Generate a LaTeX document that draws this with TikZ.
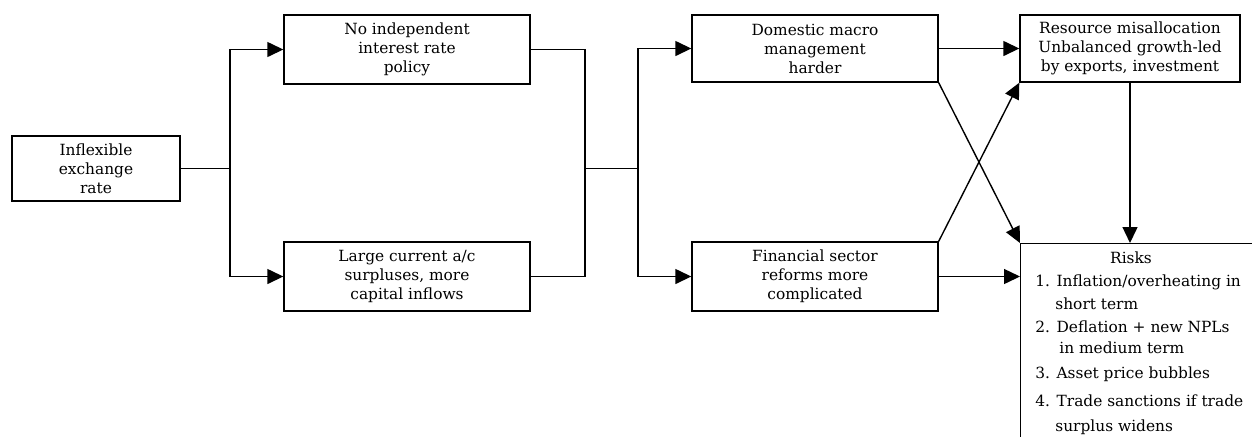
\documentclass[tikz,border=0pt]{standalone}
\usepackage{fontspec}
\setmainfont{DejaVu Serif}
\usetikzlibrary{arrows.meta}
\begin{document}
\begin{tikzpicture}[x=0.5pt,y=-0.5pt,
  box/.style={draw, line width=0.7pt, align=center, inner sep=0pt,
    font=\fontsize{7.7}{9.5}\selectfont},
  conn/.style={line width=0.7pt},
  arr/.style={conn, -{Triangle[length=8pt,width=7.5pt]}},
  risktext/.style={inner sep=0pt, font=\fontsize{7.7}{11.5}\selectfont}
]
\clip (0,0) rectangle (1252,436);
\fill[white] (0,0) rectangle (1252,436);
\node[box, minimum width=84pt, minimum height=32.5pt] (A) at (96,168.5) {Inflexible\\exchange\\rate};
\node[box, minimum width=123pt, minimum height=34.5pt] (B) at (407,49.5) {No independent\\interest rate\\policy};
\node[box, minimum width=123pt, minimum height=34.5pt] (C) at (407,276.5) {Large current a/c\\surpluses, more\\capital inflows};
\node[box, minimum width=123pt, minimum height=33.5pt] (D) at (815,48.5) {Domestic macro\\management\\harder};
\node[box, minimum width=123pt, minimum height=34.5pt] (E) at (815,276.5) {Financial sector\\reforms more\\complicated};
\node[box, minimum width=110pt, minimum height=33.5pt] (F) at (1130,48.5) {Resource misallocation\\Unbalanced growth-led\\by exports, investment};
\node[draw, line width=0.7pt, inner sep=0pt, minimum width=130pt, minimum height=110pt, anchor=north west] (risks) at (1020,243) {};
\node[risktext, anchor=base] (rh) at (1131,263) {Risks};
\node[risktext, anchor=base west] (rl) at (1035,286) {%
\def\arraystretch{1}%
\begin{tabular}[t]{@{}l@{}}
1. Inflation/overheating in\\
\hspace{10pt}short term\\
2. Deflation + new NPLs\\[-1pt]
\hspace{12pt}in medium term\\[1pt]
3. Asset price bubbles\\[2.5pt]
4. Trade sanctions if trade\\[1pt]
\hspace{10pt}surplus widens
\end{tabular}};

\coordinate (j1) at (230,168.5);
\coordinate (j2) at (585,168.5);
\coordinate (j3) at (638,168.5);

\draw[conn] (A.east) -- (j1);
\draw[arr] (j1) |- (B.west);
\draw[arr] (j1) |- (C.west);
\draw[conn] (B.east) -| (j2);
\draw[conn] (C.east) -| (j2);
\draw[conn] (j2) -- (j3);
\draw[arr] (j3) |- (D.west);
\draw[arr] (j3) |- (E.west);
\draw[arr] (D.east) -- (F.west);
\draw[arr] (D.south east) -- (risks.north west);
\draw[arr] (E.north east) -- (F.south west);
\draw[arr] (E.east) -- (E.east -| risks.west);
\draw[arr] (F.south) -- (F.south |- risks.north);
\end{tikzpicture}
\end{document}
